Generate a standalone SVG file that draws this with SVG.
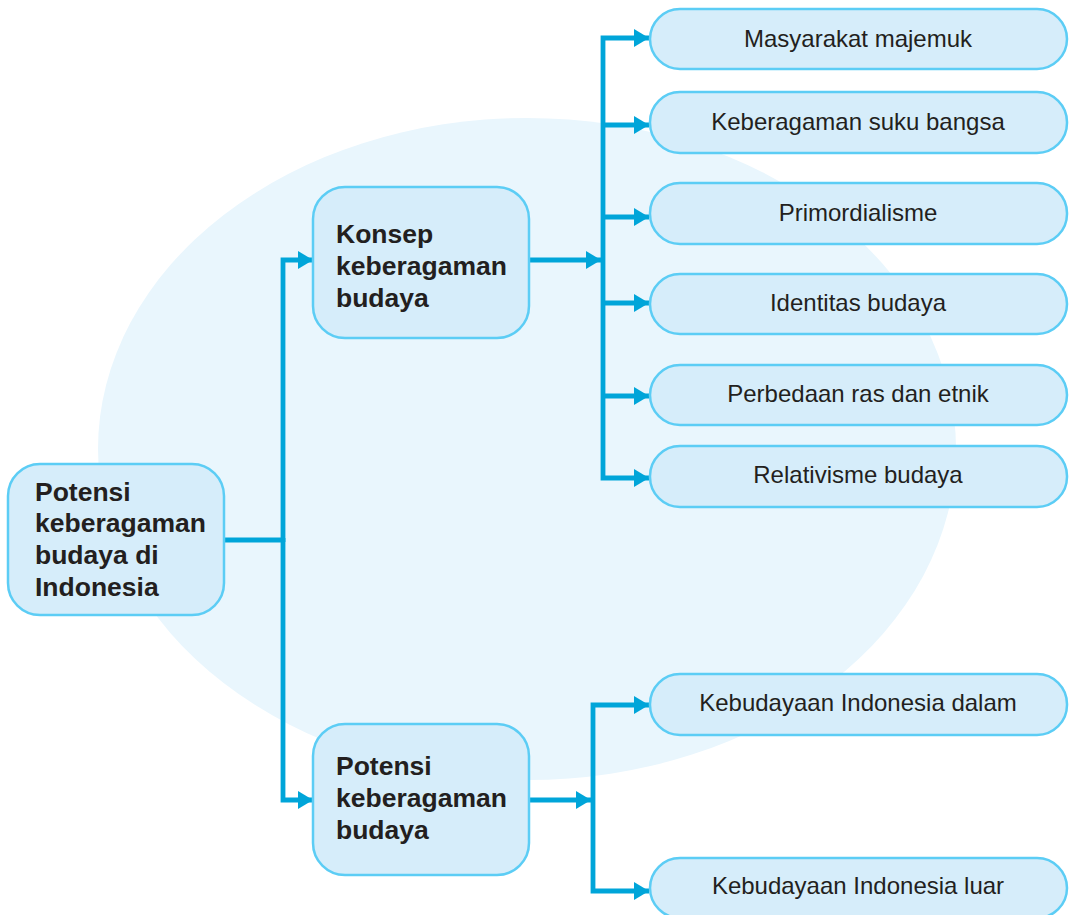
<svg xmlns="http://www.w3.org/2000/svg" width="1069" height="915" viewBox="0 0 1069 915">
  <style>
    .box { fill: #D6EDFA; stroke: #5CCDF5; stroke-width: 2.5; }
    .pill { fill: #D6EDFA; stroke: #5CCDF5; stroke-width: 2.5; }
    .head { font-family: "Liberation Sans", Arial, sans-serif; font-size: 26.5px; font-weight: bold; fill: #231F20; }
    .label { font-family: "Liberation Sans", Arial, sans-serif; font-size: 24px; fill: #231F20; text-anchor: middle; }
    .wire { fill: none; stroke: #00A5D9; stroke-width: 4.8; stroke-linejoin: miter; stroke-linecap: butt; }
  </style>
  <defs>
    <marker id="arrow" viewBox="0 0 15 18" refX="15" refY="9" markerWidth="15" markerHeight="18" markerUnits="userSpaceOnUse" orient="auto-start-reverse">
      <path d="M0,0 L15,9 L0,18 Z" fill="#00A5D9"/>
    </marker>
  </defs>

  <rect width="1069" height="915" fill="#FFFFFF"/>
  <!-- soft background disc -->
  <ellipse cx="527" cy="449" rx="429" ry="331" fill="#E9F6FD"/>

  <g id="connectors">
    <path class="wire" d="M224,540 H283"/>
    <path class="wire" d="M283,542 V260 H313" marker-end="url(#arrow)"/>
    <path class="wire" d="M283,538 V800 H313" marker-end="url(#arrow)"/>

    <path class="wire" d="M529,260 H601" marker-end="url(#arrow)"/>
    <path class="wire" d="M649,38 H603 V478 H649" marker-start="url(#arrow)" marker-end="url(#arrow)"/>
    <path class="wire" d="M603,125 H649" marker-end="url(#arrow)"/>
    <path class="wire" d="M603,217 H649" marker-end="url(#arrow)"/>
    <path class="wire" d="M603,303 H649" marker-end="url(#arrow)"/>
    <path class="wire" d="M603,396 H649" marker-end="url(#arrow)"/>

    <path class="wire" d="M529,800 H591" marker-end="url(#arrow)"/>
    <path class="wire" d="M649,705 H593 V891 H649" marker-start="url(#arrow)" marker-end="url(#arrow)"/>
  </g>

  <g id="root">
    <rect class="box" x="8" y="464" width="216" height="151" rx="32"/>
    <text class="head" x="35" y="501">Potensi</text>
    <text class="head" x="35" y="532">keberagaman</text>
    <text class="head" x="35" y="564">budaya di</text>
    <text class="head" x="35" y="596">Indonesia</text>
  </g>

  <g id="konsep">
    <rect class="box" x="313" y="187" width="216" height="151" rx="32"/>
    <text class="head" x="336" y="243">Konsep</text>
    <text class="head" x="336" y="275">keberagaman</text>
    <text class="head" x="336" y="307">budaya</text>
  </g>

  <g id="potensi">
    <rect class="box" x="313" y="724" width="216" height="151" rx="32"/>
    <text class="head" x="336" y="775">Potensi</text>
    <text class="head" x="336" y="807">keberagaman</text>
    <text class="head" x="336" y="839">budaya</text>
  </g>

  <g id="masyarakat">
    <rect class="pill" x="650" y="9" width="417" height="60" rx="30"/>
    <text class="label" x="858" y="47">Masyarakat majemuk</text>
  </g>
  <g id="suku">
    <rect class="pill" x="650" y="92" width="417" height="61" rx="30"/>
    <text class="label" x="858" y="130">Keberagaman suku bangsa</text>
  </g>
  <g id="primordialisme">
    <rect class="pill" x="650" y="183" width="417" height="61" rx="30"/>
    <text class="label" x="858" y="221">Primordialisme</text>
  </g>
  <g id="identitas">
    <rect class="pill" x="650" y="274" width="417" height="60" rx="30"/>
    <text class="label" x="858" y="311">Identitas budaya</text>
  </g>
  <g id="ras">
    <rect class="pill" x="650" y="365" width="417" height="60" rx="30"/>
    <text class="label" x="858" y="402">Perbedaan ras dan etnik</text>
  </g>
  <g id="relativisme">
    <rect class="pill" x="650" y="446" width="417" height="61" rx="30"/>
    <text class="label" x="858" y="483">Relativisme budaya</text>
  </g>
  <g id="dalam">
    <rect class="pill" x="650" y="674" width="417" height="61" rx="30"/>
    <text class="label" x="858" y="711">Kebudayaan Indonesia dalam</text>
  </g>
  <g id="luar">
    <rect class="pill" x="650" y="858" width="417" height="60" rx="30"/>
    <text class="label" x="858" y="894">Kebudayaan Indonesia luar</text>
  </g>
</svg>
